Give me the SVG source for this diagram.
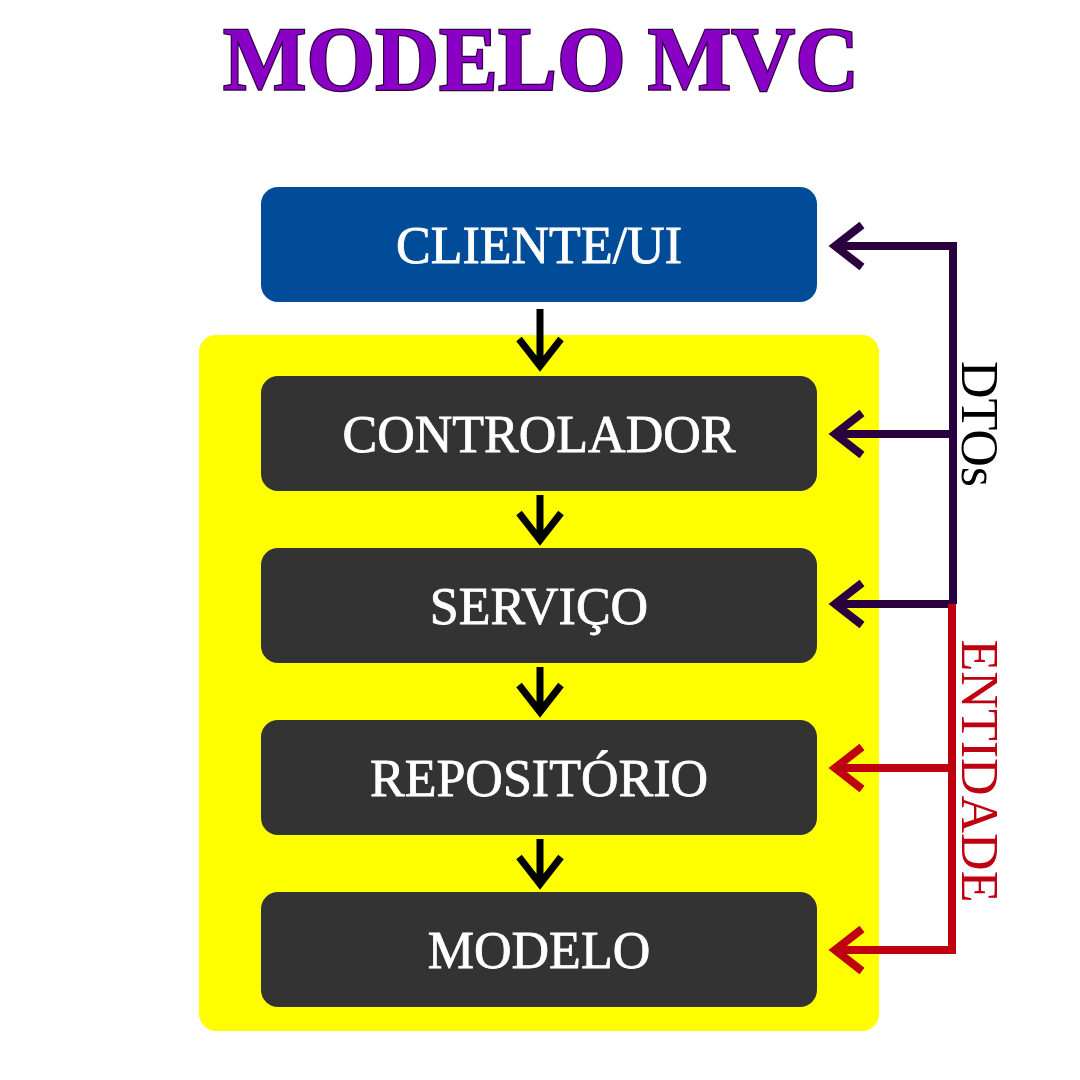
<svg xmlns="http://www.w3.org/2000/svg" width="1080" height="1080" viewBox="0 0 1080 1080">
<defs>
<style>
.title{font-family:"Liberation Serif","Times New Roman",serif;font-weight:bold;font-size:90px;fill:#8A00C4;stroke:#2E0040;stroke-width:2.5px;paint-order:stroke;}
.lbl{font-family:"Liberation Serif","Times New Roman",serif;font-size:52px;fill:#ffffff;stroke:#ffffff;stroke-width:0.8px;text-anchor:middle;}
.box{fill:#333333;}
.down{stroke:#000000;stroke-width:7;fill:none;}
.dto{stroke:#2B003E;stroke-width:8;fill:none;}
.ent{stroke:#BF0010;stroke-width:8;fill:none;}
.side{font-family:"Liberation Serif","Times New Roman",serif;font-size:52px;text-anchor:middle;}
</style>
</defs>
<rect width="1080" height="1080" fill="#ffffff"/>
<text class="title" x="541" y="90" text-anchor="middle" textLength="636" lengthAdjust="spacingAndGlyphs">MODELO MVC</text>
<rect id="camada" x="199" y="335" width="680" height="696" rx="17" fill="#FFFF00"/>
<g id="cliente"><rect x="261" y="187" width="556" height="115" rx="17" fill="#004C99"/><text class="lbl" x="539" y="263">CLIENTE/UI</text></g>
<g id="controlador"><rect class="box" x="261" y="376" width="556" height="115" rx="17"/><text class="lbl" x="539" y="452">CONTROLADOR</text></g>
<g id="servico"><rect class="box" x="261" y="548" width="556" height="115" rx="17"/><text class="lbl" x="539" y="624">SERVIÇO</text></g>
<g id="repositorio"><rect class="box" x="261" y="720" width="556" height="115" rx="17"/><text class="lbl" x="539" y="796">REPOSITÓRIO</text></g>
<g id="modelo"><rect class="box" x="261" y="892" width="556" height="115" rx="17"/><text class="lbl" x="539" y="968">MODELO</text></g>
<g id="conectores">
<path class="down" d="M540 309V366M519 339L540 366L561 339"/>
<path class="down" d="M540 495V540M519 513L540 540L561 513"/>
<path class="down" d="M540 667V712M519 685L540 712L561 685"/>
<path class="down" d="M540 839V884M519 857L540 884L561 857"/>
<path class="dto" d="M953 604V246H835M862 225L835 246L862 267"/>
<path class="dto" d="M953 434H835M862 413L835 434L862 455"/>
<path class="dto" d="M949 604H835M862 583L835 604L862 625"/>
<path class="ent" d="M952 604V950H835M862 929L835 950L862 971"/>
<path class="ent" d="M952 768H835M862 747L835 768L862 789"/>
</g>
<text class="side" fill="#000000" transform="translate(962,424) rotate(90)">DTOs</text>
<text class="side" fill="#BF0010" transform="translate(962,771) rotate(90)">ENTIDADE</text>
</svg>
